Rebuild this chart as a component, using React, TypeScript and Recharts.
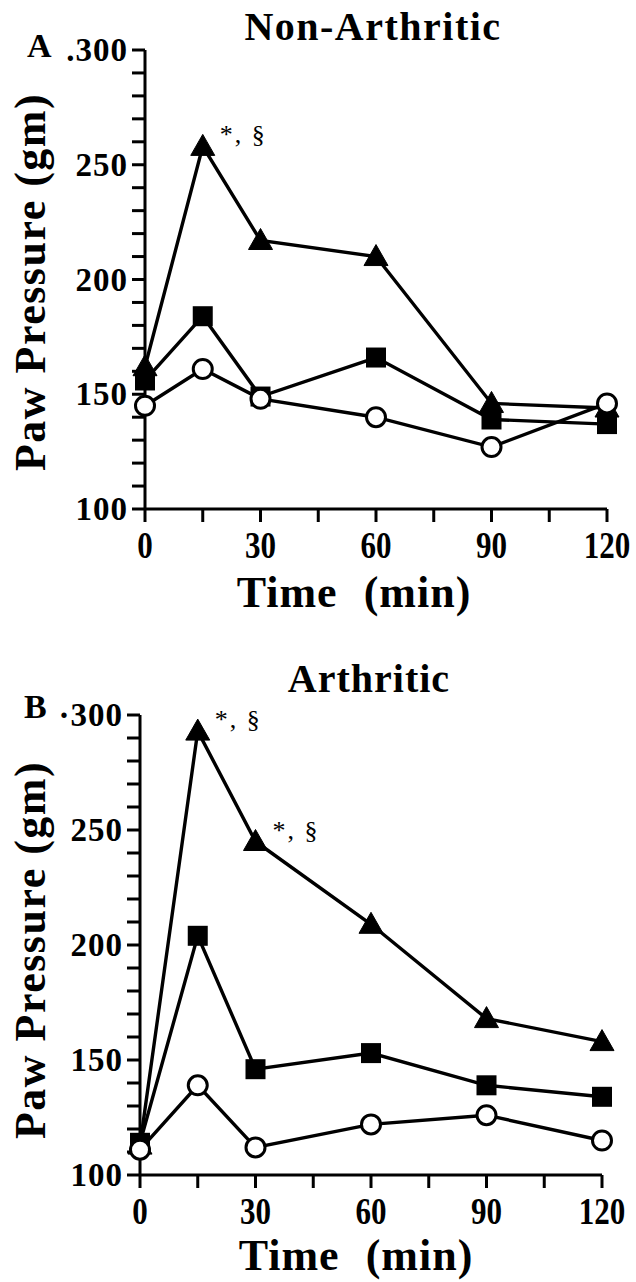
import React from 'react';
import { LineChart, Line, XAxis, YAxis, LabelList } from 'recharts';

// time points (min)
const TIME = [0, 15, 30, 60, 90, 120];

// panel A - non-arthritic
const NA_TRIANGLE = [162, 258, 217, 210, 146, 144];
const NA_SQUARE = [156, 184, 149, 166, 139, 137];
const NA_CIRCLE = [145, 161, 148, 140, 127, 146];
const NA_NOTES = ['', '*, §', '', '', '', ''];

// panel B - arthritic
const AR_TRIANGLE = [113, 293, 245, 209, 168, 158];
const AR_SQUARE = [114, 204, 146, 153, 139, 134];
const AR_CIRCLE = [111, 139, 112, 122, 126, 115];
const AR_NOTES = ['', '*, §', '*, §', '', '', ''];

const X_TICKS = [0, 15, 30, 45, 60, 75, 90, 105, 120];
const X_LABELED = [0, 30, 60, 90, 120];
const Y_TICKS = [100, 110, 120, 130, 140, 150, 160, 170, 180, 190, 200, 210, 220, 230, 240, 250, 260, 270, 280, 290, 300];
const Y_LABELED = [100, 150, 200, 250, 300];

const SERIF = '"Liberation Serif", "Times New Roman", serif';
const W = 636;

type Box = { left: number; right: number; top: number; bottom: number };

interface PanelProps {
  top: number;
  height: number;
  plot: Box;
  tri: number[];
  sq: number[];
  circ: number[];
  notes: string[];
  title: string;
  titleX: number;
  titleY: number;
  titleSpacing: number;
  letter: string;
  letterX: number;
  letterY: number;
  topTick: string;
  yLabelY: number;
  xLabelX: number;
  xLabelY: number;
}

const triangleDot = (props: any) => {
  const { cx, cy, index } = props;
  if (cx == null || cy == null) return <g key={`t${index}`} />;
  return (
    <path
      key={`t${index}`}
      d={`M${cx},${cy - 12} L${cx + 12},${cy + 9} L${cx - 12},${cy + 9} Z`}
      fill="#000"
      stroke="#000"
      strokeWidth={1}
      strokeLinejoin="round"
    />
  );
};

const squareDot = (props: any) => {
  const { cx, cy, index } = props;
  if (cx == null || cy == null) return <g key={`s${index}`} />;
  return <rect key={`s${index}`} x={cx - 10} y={cy - 10} width={20} height={20} fill="#000" />;
};

const circleDot = (props: any) => {
  const { cx, cy, index } = props;
  if (cx == null || cy == null) return <g key={`c${index}`} />;
  return <circle key={`c${index}`} cx={cx} cy={cy} r={9.5} fill="#fff" stroke="#000" strokeWidth={3} />;
};

const renderNote = (props: any) => {
  const { x, y, value } = props;
  if (!value) return null;
  return (
    <text
      x={Number(x) + 17}
      y={Number(y) - 3}
      fontFamily={SERIF}
      fontSize={26}
      letterSpacing={2}
      fill="#000"
    >
      {value}
    </text>
  );
};

function Panel(p: PanelProps) {
  const data = TIME.map((t, i) => ({
    t,
    tri: p.tri[i],
    sq: p.sq[i],
    circ: p.circ[i],
    note: p.notes[i],
  }));

  const xAxisH = 60;
  const yAxisW = 100;
  const margin = {
    left: p.plot.left - yAxisW,
    right: W - p.plot.right,
    top: p.plot.top,
    bottom: p.height - p.plot.bottom - xAxisH,
  };

  const xTick = (props: any) => {
    const { x, y, payload } = props;
    if (!X_LABELED.includes(payload.value)) return <g />;
    return (
      <g transform={`translate(${x},${y + 24}) scale(0.84,1)`}>
        <text
          textAnchor="middle"
          dominantBaseline="central"
          fontFamily={SERIF}
          fontWeight="bold"
          fontSize={37}
          fill="#000"
        >
          {payload.value}
        </text>
      </g>
    );
  };

  const yTick = (props: any) => {
    const { x, y, payload } = props;
    if (!Y_LABELED.includes(payload.value)) return <g />;
    const label = payload.value === 300 ? p.topTick : String(payload.value);
    return (
      <text
        x={x - 4}
        y={y}
        textAnchor="end"
        dominantBaseline="central"
        fontFamily={SERIF}
        fontWeight="bold"
        fontSize={33}
        letterSpacing={1}
        fill="#000"
      >
        {label}
      </text>
    );
  };

  return (
    <div style={{ position: 'absolute', left: 0, top: p.top, width: W, height: p.height }}>
      <LineChart width={W} height={p.height} data={data} margin={margin}>
        <XAxis
          dataKey="t"
          type="number"
          domain={[0, 120]}
          ticks={X_TICKS}
          interval={0}
          height={xAxisH}
          tickSize={13}
          tickMargin={0}
          tick={xTick}
          axisLine={{ stroke: '#000', strokeWidth: 3 }}
          tickLine={{ stroke: '#000', strokeWidth: 3 }}
        />
        <YAxis
          type="number"
          domain={[100, 300]}
          ticks={Y_TICKS}
          interval={0}
          width={yAxisW}
          tickSize={13}
          tickMargin={0}
          tick={yTick}
          axisLine={{ stroke: '#000', strokeWidth: 3 }}
          tickLine={{ stroke: '#000', strokeWidth: 3 }}
        />
        <Line
          dataKey="tri"
          stroke="#000"
          strokeWidth={3.4}
          dot={triangleDot}
          activeDot={false}
          isAnimationActive={false}
        >
          <LabelList dataKey="note" content={renderNote} />
        </Line>
        <Line
          dataKey="sq"
          stroke="#000"
          strokeWidth={3.4}
          dot={squareDot}
          activeDot={false}
          isAnimationActive={false}
        />
        <Line
          dataKey="circ"
          stroke="#000"
          strokeWidth={3.4}
          dot={circleDot}
          activeDot={false}
          isAnimationActive={false}
        />
      </LineChart>
      <svg
        width={W}
        height={p.height}
        style={{ position: 'absolute', left: 0, top: 0, pointerEvents: 'none' }}
      >
        <g fontFamily={SERIF} fontWeight="bold" fill="#000">
          <text x={p.titleX} y={p.titleY} textAnchor="middle" fontSize={40} letterSpacing={p.titleSpacing}>
            {p.title}
          </text>
          <text x={p.letterX} y={p.letterY} fontSize={34}>
            {p.letter}
          </text>
          <text
            x={45}
            y={p.yLabelY}
            transform={`rotate(-90 45 ${p.yLabelY})`}
            textAnchor="middle"
            fontSize={44}
            letterSpacing={1.5}
          >
            Paw Pressure (gm)
          </text>
          <text
            x={p.xLabelX}
            y={p.xLabelY}
            textAnchor="middle"
            fontSize={44}
            letterSpacing={1}
            wordSpacing={14}
          >
            Time (min)
          </text>
        </g>
      </svg>
    </div>
  );
}

export default function App() {
  return (
    <div style={{ position: 'absolute', left: 0, top: 0, width: W, height: 1282, background: '#fff' }}>
      <Panel
        top={0}
        height={640}
        plot={{ left: 145, right: 607, top: 50, bottom: 509 }}
        tri={NA_TRIANGLE}
        sq={NA_SQUARE}
        circ={NA_CIRCLE}
        notes={NA_NOTES}
        title="Non-Arthritic"
        titleX={373}
        titleY={40}
        titleSpacing={1.5}
        letter="A"
        letterX={27}
        letterY={57}
        topTick=".300"
        yLabelY={282}
        xLabelX={354}
        xLabelY={607}
      />
      <Panel
        top={640}
        height={642}
        plot={{ left: 140, right: 602, top: 75, bottom: 535 }}
        tri={AR_TRIANGLE}
        sq={AR_SQUARE}
        circ={AR_CIRCLE}
        notes={AR_NOTES}
        title="Arthritic"
        titleX={369}
        titleY={52}
        titleSpacing={1}
        letter="B"
        letterX={24}
        letterY={78}
        topTick="·300"
        yLabelY={310}
        xLabelX={356}
        xLabelY={630}
      />
    </div>
  );
}
